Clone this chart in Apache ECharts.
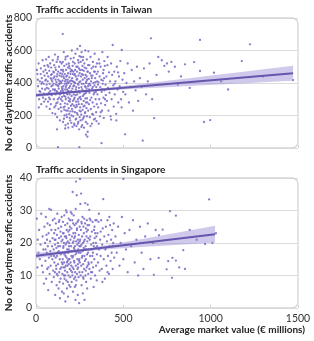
<!DOCTYPE html>
<html><head><meta charset="utf-8">
<script src="https://cdn.jsdelivr.net/npm/echarts@6/dist/echarts.min.js"></script>
<style>html,body{margin:0;padding:0;background:#fff}#c{width:314px;height:341px}</style>
</head><body><div id="c"></div>
<script>
// ---------- DATA ----------
const xTicks = [0, 500, 1000, 1500];
const taiwanYTicks = [0, 200, 400, 600, 800];
const singaporeYTicks = [0, 10, 20, 30, 40];
const yAxisTitle = 'No of daytime traffic accidents';

const taiwanPoints = [
[8,455],[12,380],[15,520],[18,300],[22,410],[25,345],[28,490],[30,270],[33,430],[35,365],[38,540],[40,310],[42,470],[44,395],[46,285],[48,505],[10,420],[20,350],[27,455],[36,405],[45,335],[5,480],[16,250],[31,395],[49,445],
[52,360],[54,480],[55,300],[57,420],[58,545],[60,255],[61,390],[63,460],[64,330],[66,510],[67,410],[69,285],[70,440],[72,365],[73,560],[75,310],[76,475],[78,395],[79,240],[81,520],[82,350],[84,430],[85,270],[87,495],[88,380],[90,325],[91,455],[93,410],[94,215],[96,540],[97,360],[99,470],[53,415],[62,370],[71,500],[80,300],[89,420],[95,385],[74,340],[86,450],
[101,395],[102,300],[104,510],[105,250],[106,440],[108,360],[109,575],[110,210],[112,420],[113,330],[114,480],[116,275],[117,405],[118,530],[120,345],[121,190],[122,455],[124,385],[125,300],[126,560],[128,420],[129,240],[130,365],[132,500],[133,310],[134,445],[136,395],[137,170],[138,530],[140,270],[141,410],[142,350],[144,480],[145,225],[146,440],[148,375],[149,315],[103,465],[107,355],[111,495],[115,390],[119,440],[123,280],[127,470],[131,335],[135,410],[139,460],[143,300],[147,520],[150,360],[100,430],[118,350],[128,380],[138,330],[145,400],[112,260],[124,545],[133,395],[142,250],[150,455],[120,115],[126,5],[153,701],
[151,290],[152,415],[153,530],[154,350],[155,160],[156,470],[157,380],[158,250],[159,590],[160,430],[161,320],[162,505],[163,200],[164,395],[165,455],[166,275],[167,360],[168,545],[169,140],[170,420],[171,300],[172,480],[173,230],[174,385],[175,515],[176,340],[177,190],[178,445],[179,405],[180,270],[181,565],[182,350],[183,150],[184,460],[185,310],[186,400],[187,245],[188,520],[189,370],[190,210],[191,435],[192,330],[193,490],[194,285],[195,380],[196,170],[197,455],[198,345],[199,550],[200,260],[152,365],[157,440],[162,235],[166,410],[171,375],[175,205],[179,330],[183,495],[188,290],[192,410],[197,225],[154,480],[160,180],[168,315],[173,440],[178,360],[185,125],[190,505],[195,300],[199,415],[158,335],[164,255],[170,560],[176,395],[182,230],[187,350],[193,185],[198,470],[167,120],[181,420],
[201,395],[202,155],[203,480],[204,320],[205,600],[206,240],[207,430],[208,365],[209,130],[210,505],[211,290],[212,410],[213,195],[214,470],[215,345],[216,555],[217,260],[218,385],[219,150],[220,450],[221,310],[222,520],[223,220],[224,400],[225,345],[226,580],[227,175],[228,440],[229,285],[230,375],[231,500],[232,135],[233,420],[234,255],[235,470],[236,330],[237,610],[238,205],[239,395],[240,300],[241,540],[242,160],[243,445],[244,350],[245,270],[246,490],[247,115],[248,405],[249,230],[250,460],[202,350],[206,475],[210,225],[214,380],[218,300],[222,455],[226,250],[230,180],[234,345],[238,500],[242,285],[246,370],[250,190],[204,415],[208,270],[212,530],[216,330],[220,140],[224,480],[228,360],[232,265],[236,425],[240,150],[244,525],[248,310],[203,200],[211,455],[219,405],[227,325],[235,215],[243,390],[249,565],[252,628],[248,5],
[251,340],[252,480],[253,250],[254,410],[255,170],[256,530],[257,300],[258,440],[259,205],[260,375],[261,590],[262,270],[263,455],[264,140],[265,360],[266,505],[267,235],[268,420],[269,320],[270,560],[271,185],[272,395],[273,290],[274,475],[275,125],[276,350],[277,520],[278,260],[279,430],[280,215],[281,380],[282,600],[283,305],[284,450],[285,160],[286,400],[287,340],[288,490],[289,245],[290,365],[291,545],[292,195],[293,420],[294,280],[295,470],[296,100],[297,350],[298,510],[299,230],[300,395],[254,315],[258,560],[262,395],[266,175],[270,450],[274,330],[278,495],[282,220],[286,280],[290,440],[294,150],[298,380],[256,225],[264,480],[272,255],[280,335],[288,410],[296,470],[260,130],[268,540],[276,195],[284,375],[292,305],[286,82],[294,70],[300,595],
[302,425],[303,270],[305,510],[306,340],[308,190],[309,460],[311,385],[312,560],[314,240],[315,410],[317,310],[318,490],[320,150],[321,365],[323,445],[324,280],[326,530],[327,205],[329,400],[330,330],[332,470],[333,255],[335,385],[336,580],[338,180],[339,430],[341,300],[342,500],[344,220],[345,375],[347,455],[348,270],[350,410],[304,360],[310,295],[316,445],[322,210],[328,500],[334,340],[340,405],[346,165],[312,135],[325,375],[337,470],[343,345],[349,520],[307,395],[319,430],[331,175],
[352,330],[354,470],[356,250],[358,405],[360,545],[362,300],[364,440],[366,195],[368,375],[370,500],[372,275],[374,420],[376,345],[378,230],[380,590],[382,395],[384,460],[386,310],[388,185],[390,430],[392,355],[394,505],[396,265],[398,390],[400,325],[355,390],[363,520],[371,220],[379,360],[387,480],[395,300],[359,150],[375,30],[383,415],[391,535],
[403,440],[406,290],[409,510],[412,370],[415,230],[418,465],[421,340],[424,410],[427,195],[430,520],[433,300],[436,450],[439,634],[442,385],[445,255],[448,470],[451,330],[455,410],[459,210],[463,500],[467,360],[471,280],[475,440],[479,380],[483,535],[487,300],[491,603],[495,420],[499,345],[410,560],[430,175],[450,395],[470,465],[490,250],[460,170],
[505,460],[510,84],[512,330],[518,400],[525,520],[532,280],[540,375],[548,480],[555,230],[562,410],[570,355],[578,500],[585,290],[595,430],[605,375],[611,45],[618,490],[630,330],[640,410],[650,520],[658,675],[665,300],[676,184],[690,450],[700,560],
[720,540],[735,505],[750,520],[760,470],[775,530],[795,500],[812,390],[830,440],[853,515],[880,370],[905,529],[939,474],[939,665],[962,160],[997,172],[1019,463],[1060,410],[1178,535],[1225,638],[1472,418],[1100,360],[1300,440]
];

const singaporePoints = [
[5,27.5],[8,12.5],[10,21],[14,17],[18,24],[22,15],[26,19.5],[30,29],[34,13],[38,22],[42,18],[45,7.5],[48,25],[12,16],[40,11],
[52,20],[54,14.5],[56,28],[58,9],[60,22.5],[62,17],[64,12],[66,26],[68,19],[70,5.5],[72,23],[74,15.5],[76,30.5],[78,10.5],[80,20.5],[82,17.5],[84,13],[86,30.2],[88,24],[90,8],[92,19],[94,15],[96,27],[98,11.5],[55,18],[63,21],[71,12.5],[79,25.5],[87,16],[95,21.5],
[101,18],[102,9.5],[104,23],[105,14],[106,27.5],[108,11],[109,19.5],[110,4],[112,21],[113,15.5],[114,26],[116,12],[117,18.5],[118,7],[120,22.5],[121,16],[122,29],[124,10],[125,20],[126,13.5],[128,24.5],[129,6],[130,17.5],[132,21.5],[133,11],[134,27],[136,15],[137,3],[138,19],[140,23.5],[141,9],[142,16.5],[144,25],[145,12.5],[146,20.5],[148,14],[149,5],[103,16],[111,24],[119,10.5],[127,19],[135,8],[143,22],[150,17],[107,21],[115,13],[123,17],[131,26.5],[139,12],[147,28],
[151,10.5],[152,21],[153,15],[154,26.5],[155,7.5],[156,18.5],[157,12.5],[158,23],[159,4.5],[160,20],[161,14],[162,28.5],[163,9],[164,17],[165,22],[166,11.5],[167,25.5],[168,2],[169,16],[170,19.5],[171,13],[172,30],[173,8.5],[174,21.5],[175,15.5],[176,24],[177,6],[178,18],[179,11],[180,26],[181,14.5],[182,20.5],[183,3.5],[184,17],[185,23.5],[186,10],[187,27.5],[188,13.5],[189,19],[190,7],[191,22.5],[192,15],[193,12],[194,25],[195,17.5],[196,9.5],[197,21],[198,14],[199,29.5],[200,11.5],[152,13.5],[157,19],[162,16.5],[167,10],[172,22],[177,14],[182,8],[187,18],[192,24],[197,6.5],[155,23],[165,12.5],[175,20],[185,15],[195,27],[160,10],[170,17],[180,13],[190,20],[176,29.4],
[201,19],[202,13],[203,24.5],[204,8],[205,17.5],[206,22],[207,11],[208,27],[209,15.5],[210,35.7],[211,20],[212,5],[213,16],[214,23],[215,12],[216,28.5],[217,18.5],[218,9],[219,21.5],[220,14],[221,25.5],[222,6.5],[223,19],[224,11],[225,23],[226,16.5],[227,30.5],[228,13],[229,38.9],[230,20.5],[231,8.5],[232,17],[233,34.7],[234,24],[235,10.5],[236,19.5],[237,15],[238,26.5],[239,4],[240,21],[241,12.5],[242,18],[243,27],[244,9.5],[245,22.5],[246,14.5],[247,1.5],[248,19],[249,11],[250,25],[203,16],[208,10],[213,26],[218,14.5],[223,22],[228,7],[233,17.5],[238,12],[243,20],[248,15],[205,29],[215,20.5],[225,9.5],[235,24.5],[245,17],[210,12.5],[220,18],[230,26],[240,13.5],[250,20.5],[226,2.5],
[251,14],[252,39.7],[253,21],[254,32],[255,17],[256,10],[257,24],[258,35.2],[259,13],[260,19.5],[261,7],[262,26],[263,15.5],[264,22],[265,11],[266,28],[267,17.5],[268,4.5],[269,20],[270,13.5],[271,25],[272,9],[273,18.5],[274,23],[275,12],[276,27.5],[277,16],[278,2.5],[279,21],[280,14.5],[281,26],[282,32.3],[283,10],[284,19],[285,15],[286,24.5],[287,8],[288,18],[289,22],[290,12.5],[291,27],[292,16.5],[293,6],[294,20.5],[295,13],[296,31.8],[297,24],[298,17],[299,10.5],[300,21.5],[255,19],[265,16],[275,20.5],[285,11.5],[295,25.5],[260,26.5],[270,9.5],[280,18],[290,23.5],[300,14],
[302,18],[304,25.5],[305,30.2],[306,12],[308,21],[310,16],[312,27],[314,9],[316,19.5],[318,14],[320,23.5],[322,11],[324,26.5],[326,17],[328,20],[330,6.5],[332,24],[334,15],[336,21.5],[338,10],[340,27],[342,18.5],[344,13],[346,22],[348,8.5],[350,19],[303,13.5],[311,22],[319,18],[327,12.5],[335,25],[343,20],[349,16.5],[307,27.5],[323,16],[339,23],[315,11],[331,19],[347,27],
[352,23],[355,14],[358,26.5],[361,18],[364,11.5],[367,21],[370,16],[373,27],[376,12],[379,19.5],[382,24.5],[385,33.5],[388,15],[391,22],[394,9],[397,18],[400,25],[403,13],[406,20.5],[409,27],[412,16],[415,22.5],[418,10.5],[421,19],[424,25.5],[427,14.5],[430,21],[433,17],[436,24],[439,12],[442,20],[445,26],[448,15.5],[360,29],[380,8],[400,18.5],[420,28],[440,19],[370,23.5],[410,11],
[455,22],[462,17],[470,25],[478,13],[485,20],[492,28],[500,39.7],[500,15],[508,23],[515,18],[525,11],[535,24],[545,19],[555,27],[565,14],[575,21],[585,10],[595,25],[605,17],[615,12],[625,22],[640,26],[655,15],[670,20],[675,10.2],[685,24],[702,15.4],[704,22.4],[725,24.1],[748,11.9],
[757,14.4],[767,29.8],[779,9.3],[781,15.4],[801,28.4],[801,14.6],[820,12.5],[843,17.8],[853,12],[880,24],[920,21],[968,19.7],[991,33.4],[1010,20],[1030,23]
];

// fitted lines and confidence bands
const taiwanLineX = [0, 1472];
const taiwanLineY = [325, 460];
const taiwanBandX = [0, 150, 300, 450, 600, 750, 900, 1050, 1200, 1350, 1472];
const taiwanBandLo = [313, 332, 346, 357, 366, 374, 383, 391, 399, 407, 414];
const taiwanBandHi = [337, 346, 359, 376, 394, 414, 433, 452, 471, 491, 506];

const singaporeLineX = [0, 1025];
const singaporeLineY = [16.1, 22.7];
const singaporeBandX = [0, 150, 300, 450, 600, 750, 900, 1025];
const singaporeBandLo = [15.2, 16.6, 17.65, 18.26, 18.76, 19.24, 19.73, 20.13];
const singaporeBandHi = [17.0, 17.56, 18.41, 19.74, 21.16, 22.62, 24.07, 25.27];

// ---------- CHART ----------
const FONT = 'Lato, "Open Sans", sans-serif';
const PT = '#7b6ec8', LINE = '#6656ad', BAND = 'rgba(150,135,210,0.45)';
const LABEL_FS = 10.5, LABEL_MARGIN = 4;
const G = [
  {left:36, top:18, width:262, height:130, containLabel:false, outerBoundsMode:'none'},
  {left:36, top:178, width:262, height:130, containLabel:false, outerBoundsMode:'none'}
];

function bandSeries(idx, bx, lo, hi) {
  return {
    type: 'custom', xAxisIndex: idx, yAxisIndex: idx, z: 3, silent: true,
    data: bx.map((x, i) => [x, lo[i], hi[i]]),
    encode: {x: 0, y: [1, 2]},
    renderItem: function (params, api) {
      if (params.dataIndex !== 0) return;
      const pts = [];
      for (let i = 0; i < bx.length; i++) pts.push(api.coord([bx[i], hi[i]]));
      for (let i = bx.length - 1; i >= 0; i--) pts.push(api.coord([bx[i], lo[i]]));
      return {type: 'polygon', shape: {points: pts}, style: {fill: BAND, stroke: null}};
    }
  };
}
function xAxis(idx, showLabel) {
  return {
    type: 'value', gridIndex: idx, min: xTicks[0], max: xTicks[xTicks.length-1], interval: 500,
    axisLine: {show: false},
    axisTick: {show: true, inside: true, length: 3, lineStyle: {color: '#cfcfcf'}},
    splitLine: {show: false},
    axisLabel: {show: showLabel, fontSize: LABEL_FS, color: '#333', fontFamily: FONT, margin: 5,
      showMinLabel: true, showMaxLabel: true, hideOverlap: false, formatter: v => String(v)}
  };
}
function yAxis(idx, ticks) {
  return {
    type: 'value', gridIndex: idx, min: ticks[0], max: ticks[ticks.length-1], interval: ticks[1]-ticks[0],
    axisLine: {show: false}, axisTick: {show: false},
    splitLine: {show: true, lineStyle: {color: '#dcdcdc', width: 1.2}},
    axisLabel: {fontSize: LABEL_FS, color: '#333', fontFamily: FONT, margin: LABEL_MARGIN,
      showMinLabel: true, showMaxLabel: true, hideOverlap: false, formatter: v => String(v)}
  };
}
function scatter(idx, pts) {
  return {type: 'scatter', xAxisIndex: idx, yAxisIndex: idx, data: pts, symbolSize: 2.3, z: 2,
    itemStyle: {color: PT, opacity: 0.9}, silent: true};
}
function fit(idx, xs, ys) {
  return {type: 'line', xAxisIndex: idx, yAxisIndex: idx, data: xs.map((x, i) => [x, ys[i]]), z: 4,
    symbol: 'none', lineStyle: {color: LINE, width: 2}, silent: true};
}

const TS = {fontSize: 10, fontWeight: 'bold', color: '#222', fontFamily: FONT};
const frames = G.map(g => ({type: 'rect', z: 1, silent: true,
  shape: {x: g.left, y: g.top, width: g.width, height: g.height, r: 6},
  style: {fill: 'none', stroke: '#d6d6d6', lineWidth: 1.3}}));
const yNames = G.map(g => ({type: 'text', z: 10, silent: true, x: 9, y: g.top + g.height / 2, rotation: Math.PI / 2,
  style: {text: yAxisTitle, fontSize: 10, fontWeight: 'bold', fill: '#222', fontFamily: FONT, align: 'center', verticalAlign: 'middle'}}));

const chart = echarts.init(document.getElementById('c'), null, {renderer: 'canvas'});
chart.setOption({
  animation: false,
  textStyle: {fontFamily: FONT},
  title: [
    {text: 'Traffic accidents in Taiwan', left: 31, top: 0, textStyle: TS},
    {text: 'Traffic accidents in Singapore', left: 31, top: 160, textStyle: TS},
    {text: 'Average market value (€ millions)', right: 4, top: 320, textStyle: TS}
  ],
  grid: G,
  xAxis: [xAxis(0, false), xAxis(1, true)],
  yAxis: [yAxis(0, taiwanYTicks), yAxis(1, singaporeYTicks)],
  graphic: frames.concat(yNames),
  series: [
    scatter(0, taiwanPoints), bandSeries(0, taiwanBandX, taiwanBandLo, taiwanBandHi), fit(0, taiwanLineX, taiwanLineY),
    scatter(1, singaporePoints), bandSeries(1, singaporeBandX, singaporeBandLo, singaporeBandHi), fit(1, singaporeLineX, singaporeLineY)
  ]
});

// If the library auto-hid any y tick label (min/max), restore it at the axis' own pixel position.
function missingYLabels(gridIndex, ticks) {
  const list = chart.getZr().storage.getDisplayList(true);
  const out = [];
  ticks.forEach(v => {
    const p = chart.convertToPixel({gridIndex: gridIndex}, [xTicks[0], v]);
    const ax = p[0] - LABEL_MARGIN, ay = p[1];
    const found = list.some(e => {
      if (!e.style || e.style.text == null || String(e.style.text) !== String(v) || e.invisible || e.ignore) return false;
      const t = e.transform;
      const ex = t ? t[4] : e.x, ey = t ? t[5] : e.y;
      return Math.abs(ex - ax) < 4 && Math.abs(ey - ay) < 4;
    });
    if (!found) out.push({type: 'text', z: 5, silent: true, x: ax, y: ay,
      style: {text: String(v), fontSize: LABEL_FS, fill: '#333', fontFamily: FONT, align: 'right', verticalAlign: 'middle'}});
  });
  return out;
}
const extra = missingYLabels(0, taiwanYTicks).concat(missingYLabels(1, singaporeYTicks));
if (extra.length) chart.setOption({graphic: frames.concat(yNames, extra)});
</script></body></html>
